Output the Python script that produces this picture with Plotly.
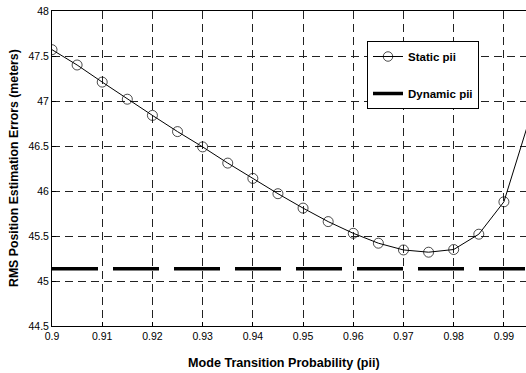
import plotly.graph_objects as go

x_static = [0.900, 0.905, 0.910, 0.915, 0.920, 0.925, 0.930, 0.935, 0.940, 0.945,
            0.950, 0.955, 0.960, 0.965, 0.970, 0.975, 0.980, 0.985, 0.990, 0.995]
y_static = [47.57, 47.40, 47.21, 47.02, 46.84, 46.66, 46.49, 46.31, 46.14, 45.97,
            45.81, 45.66, 45.53, 45.42, 45.345, 45.32, 45.35, 45.52, 45.88, 46.78]
x_dynamic = [0.900, 1.000]
y_dynamic = [45.135, 45.135]

x_ticks = [0.90, 0.91, 0.92, 0.93, 0.94, 0.95, 0.96, 0.97, 0.98, 0.99]
x_ticklabels = ["0.9", "0.91", "0.92", "0.93", "0.94", "0.95", "0.96", "0.97", "0.98", "0.99"]
y_ticks = [44.5, 45, 45.5, 46, 46.5, 47, 47.5, 48]
y_ticklabels = ["44.5", "45", "45.5", "46", "46.5", "47", "47.5", "48"]

FONT = "Liberation Sans, Arial, sans-serif"
PL, PT, PR, PB = 52, 11, 526, 326  # plot area in window pixels
W, H = 526, 373
PW, PH = PR - PL, PB - PT

X_MAX = 0.9944
# markers beyond the visible x range are hidden (the reference crops them away)
marker_sizes = [10 if xv <= X_MAX else 0 for xv in x_static]

fig = go.Figure()
fig.add_trace(go.Scatter(
    x=x_static, y=y_static, mode="lines+markers", name="<b>Static pii</b>",
    line=dict(color="black", width=1),
    marker=dict(symbol="circle-open", size=marker_sizes, color="black", line=dict(width=1)),
    legendgroup="a",
))
fig.add_trace(go.Scatter(
    x=x_dynamic, y=y_dynamic, mode="lines", name="<b>Dynamic pii</b>",
    line=dict(color="black", width=3.5, dash="46px,15px"),
    legendgroup="b",
))

axis_common = dict(
    automargin=False,
    showline=True, linecolor="black", linewidth=1,
    ticks="inside", ticklen=4, tickcolor="black",
    showgrid=True, gridcolor="#222222", gridwidth=1, griddash="8px,5px",
    zeroline=False,
    tickfont=dict(family=FONT, size=10.5, color="black"),
)

fig.update_layout(
    template="none",
    width=W, height=H,
    margin=dict(l=PL, r=W - PR, t=PT, b=H - PB, autoexpand=False),
    paper_bgcolor="white", plot_bgcolor="white",
    font=dict(family=FONT, color="black"),
    xaxis=dict(range=[0.9, X_MAX], tickvals=x_ticks, ticktext=x_ticklabels,
               mirror=True, **axis_common),
    yaxis=dict(range=[44.5, 48], tickvals=y_ticks, ticktext=y_ticklabels,
               mirror=True, **axis_common),
    showlegend=True,
    legend=dict(
        x=(367 - PL) / PW, y=(PB - 41) / PH, xanchor="left", yanchor="top",
        bgcolor="white", bordercolor="black", borderwidth=1,
        font=dict(family=FONT, size=11.5, color="black"),
        tracegroupgap=18, traceorder="grouped", itemwidth=30,
    ),
    annotations=[
        dict(text="<b>Mode Transition Probability (pii)</b>", xref="paper", yref="paper",
             x=(284 - PL) / PW, y=-(363 - PB) / PH, xanchor="center", yanchor="middle",
             showarrow=False, font=dict(family=FONT, size=12.6, color="black")),
        dict(text="<b>RMS Position Estimation Errors (meters)</b>", xref="paper", yref="paper",
             x=-(PL - 14) / PW, y=(PB - 168) / PH, xanchor="center", yanchor="middle",
             textangle=-90, showarrow=False, font=dict(family=FONT, size=12.3, color="black")),
    ],
)

fig.write_html("out.html", config={"displayModeBar": False},
               post_script="document.body.style.margin='0';")
